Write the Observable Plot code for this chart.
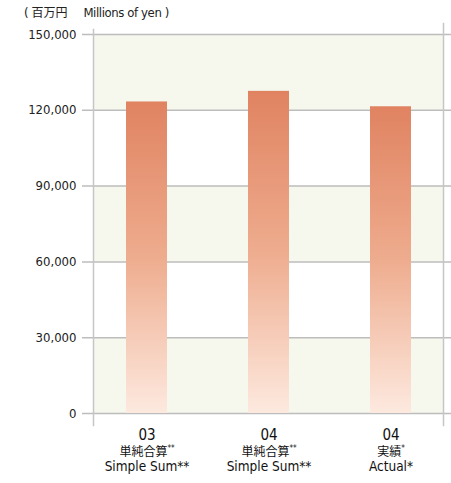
<!DOCTYPE html>
<html>
<head>
<meta charset="utf-8">
<script src="https://cdn.jsdelivr.net/npm/d3@7"></script>
<script src="https://cdn.jsdelivr.net/npm/@observablehq/plot@0.6"></script>
<style>
  html, body { margin: 0; padding: 0; background: #fff; }
  #wrap { position: relative; width: 451px; height: 483px; }
  #title { position: absolute; left: 24px; top: 3px; font-size: 13px; color: #222; line-height: 18px; letter-spacing: -0.4px;
    font-family: "DejaVu Sans Condensed", "Noto Sans CJK JP", sans-serif; white-space: pre; }
  #title .jp { font-family: "Noto Sans CJK JP", sans-serif; font-size: 12px; letter-spacing: 0; }
</style>
</head>
<body>
<div id="wrap">
  <div id="title">( <span class="jp">百万円</span>　 Millions of yen )</div>
  <div id="chart"></div>
</div>
<script>
const categories = ["03 Simple Sum", "04 Simple Sum", "04 Actual"];
const values = [123300, 127500, 121400];
const yearLabels = ["03", "04", "04"];
const jpLabels = ["単純合算", "単純合算", "実績"];
const jpMarks = ["**", "**", "*"];
const enLabels = ["Simple Sum**", "Simple Sum**", "Actual*"];
const yTicks = [0, 30000, 60000, 90000, 120000, 150000];
const shadedBands = [[0, 30000], [60000, 90000], [120000, 150000]];

const data = categories.map((c, i) => ({cat: c, value: values[i], year: yearLabels[i], jp: jpLabels[i], mark: jpMarks[i], en: enLabels[i]}));
const bands = shadedBands.map(([lo, hi]) => ({lo, hi}));

const font = "'DejaVu Sans Condensed', 'Noto Sans CJK JP', sans-serif";
const jpFont = "'Noto Sans CJK JP', sans-serif";

const chart = Plot.plot({
  width: 451,
  height: 483,
  marginTop: 34,
  marginBottom: 70,
  marginLeft: 85,
  marginRight: 0,
  style: {fontFamily: font, color: "#222", background: "#fff"},
  x: {domain: categories, paddingInner: 0.668, paddingOuter: 0.334, axis: null},
  y: {domain: [0, 150000], axis: null},
  marks: [
    Plot.rect(bands, {y1: "lo", y2: "hi", fill: "#f6f7ed", insetLeft: 8, insetRight: 8}),
    Plot.ruleY(yTicks, {stroke: "#bdbdbd", strokeWidth: 1.5, insetLeft: -3}),
    Plot.frame({anchor: "left", insetLeft: 8, insetTop: -5, insetBottom: -12, stroke: "#c6c6c6", strokeWidth: 1.5}),
    Plot.frame({anchor: "right", insetRight: 8, insetTop: -11, insetBottom: -12, stroke: "#c6c6c6", strokeWidth: 1.5}),
    Plot.barY(data, {x: "cat", y: "value", fill: "url(#barGrad)"}),
    Plot.axisY({ticks: yTicks, tickSize: 0, tickPadding: 9, tickFormat: d3.format(","), fontSize: 13, label: null, fill: "#222"}),
    Plot.text(data, {x: "cat", text: "year", frameAnchor: "bottom", dy: 26.5, lineAnchor: "bottom", fontSize: 15, fill: "#111"}),
    Plot.text(data, {x: "cat", text: "jp", frameAnchor: "bottom", dy: 42, lineAnchor: "bottom", fontSize: 12, fill: "#111", fontFamily: jpFont}),
    Plot.text(data, {x: "cat", text: "en", frameAnchor: "bottom", dy: 57.5, lineAnchor: "bottom", fontSize: 13.5, fill: "#111"})
  ]
});

const svg = d3.select(chart);
const grad = svg.insert("defs", ":first-child").append("linearGradient")
  .attr("id", "barGrad").attr("x1", 0).attr("y1", 0).attr("x2", 0).attr("y2", 1);
grad.append("stop").attr("offset", "0%").attr("stop-color", "#e08361");
grad.append("stop").attr("offset", "50%").attr("stop-color", "#eeac8e");
grad.append("stop").attr("offset", "100%").attr("stop-color", "#fde9df");

// superscript asterisks on the Japanese line
svg.selectAll("text").each(function() {
  const t = d3.select(this);
  const content = t.text();
  const i = jpLabels.indexOf(content);
  if (i < 0 || this.childElementCount > 0) return;
  t.text(null);
  t.append("tspan").text(content);
  t.append("tspan").attr("font-size", 8).attr("dy", "-0.55em").attr("font-family", font).text(jpMarks[i]);
});

document.getElementById("chart").appendChild(chart);
</script>
</body>
</html>
